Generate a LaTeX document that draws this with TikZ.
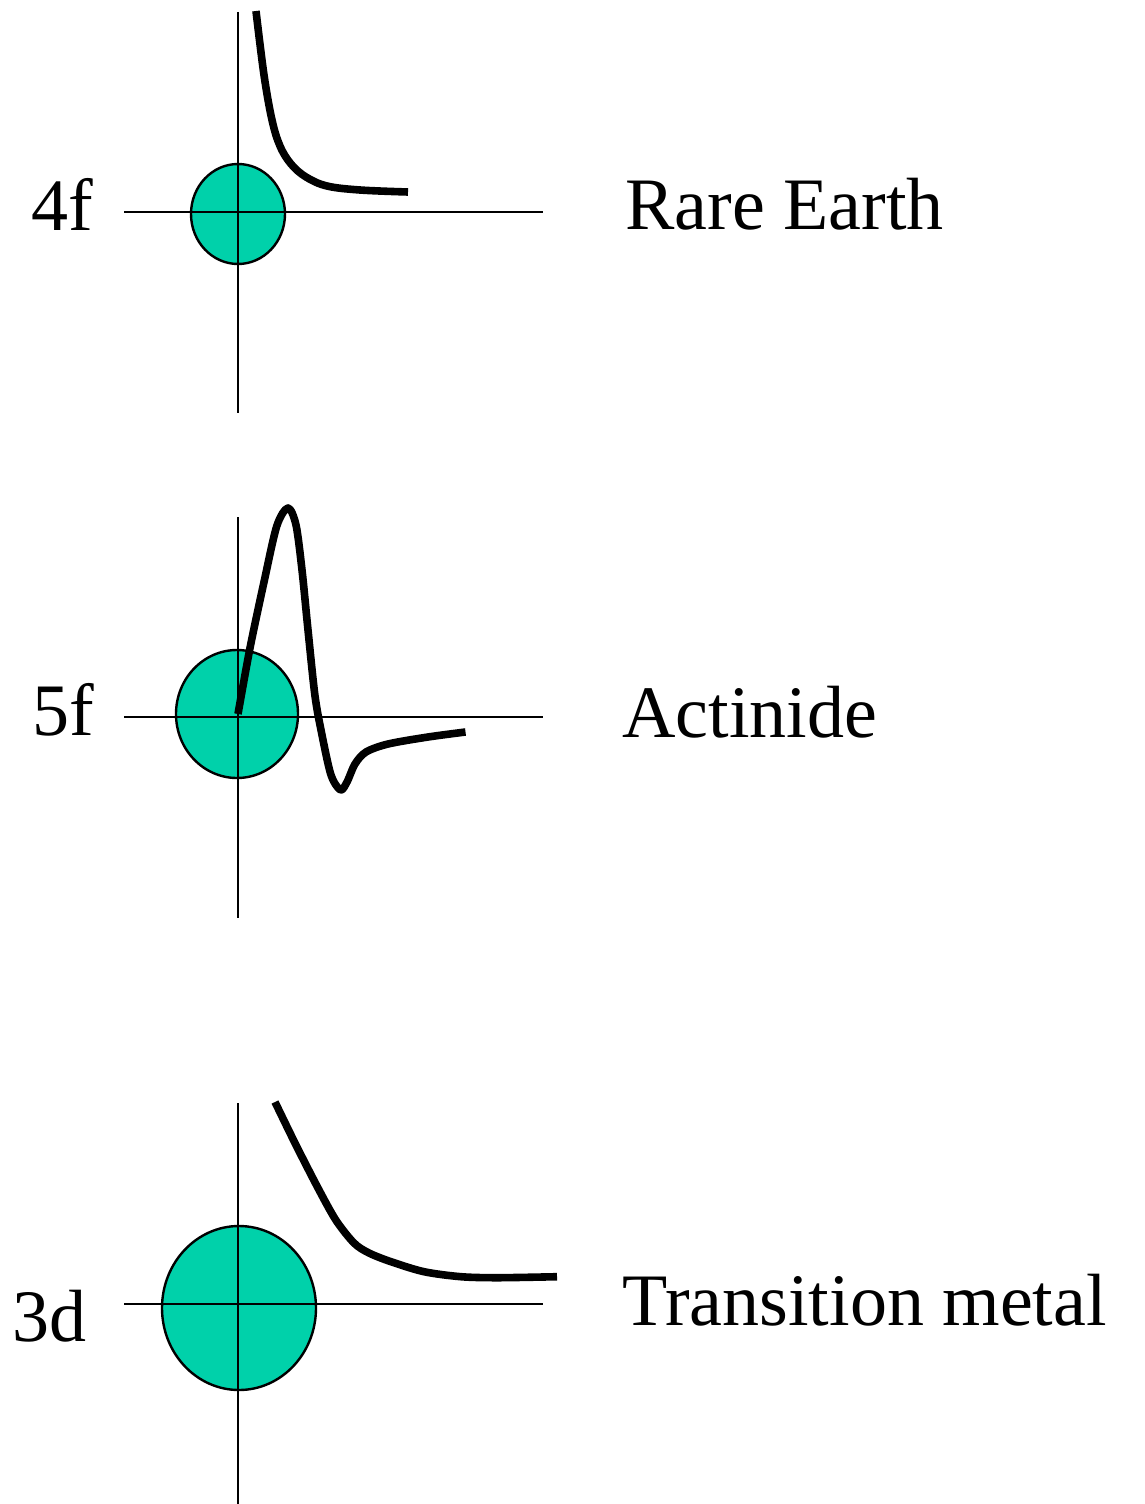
\documentclass[tikz,border=0pt]{standalone}
\usepackage{fontspec}
\setmainfont{Liberation Serif}
\usetikzlibrary{shapes.geometric}
\definecolor{orbfill}{RGB}{0,209,170}
\begin{document}
\begin{tikzpicture}[x=0.5pt,y=-0.5pt,
  orbital/.style={ellipse,draw=black,line width=1.2pt,fill=orbfill,inner sep=0pt},
  axisline/.style={line width=1pt,black},
  wave/.style={line width=3.8pt,black,line join=round},
  lbl/.style={anchor=base west,inner sep=0pt,font=\fontsize{37}{40}\selectfont}]
\useasboundingbox (0,0) rectangle (1145,1504);

% ---------- panel 1 : 4f ----------
\node[orbital,minimum width=47pt,minimum height=50pt] (c1) at (238,214) {};
\coordinate (v1t) at (238,12);  \coordinate (v1b) at (238,413);
\coordinate (h1l) at (124,212); \coordinate (h1r) at (543,212);
\draw[axisline] (v1t) -- (v1b);
\draw[axisline] (h1l) -- (h1r);
\draw[wave] plot[smooth,tension=0.6] coordinates {(256,11) (264,75) (272,120) (280,146) (291,164) (306,177) (327,186) (360,190) (408,192)};
\node[lbl] (l1) at (31,230) {4f};
\node[lbl] (n1) at (625,229) {Rare Earth};

% ---------- panel 2 : 5f ----------
\node[orbital,minimum width=61pt,minimum height=64pt] (c2) at (237,714) {};
\coordinate (v2t) at (238,517);  \coordinate (v2b) at (238,918);
\coordinate (h2l) at (124,717); \coordinate (h2r) at (543,717);
\draw[axisline] (v2t) -- (v2b);
\draw[axisline] (h2l) -- (h2r);
\draw[wave] plot[smooth,tension=0.5] coordinates {(238,714) (250,648) (264,582) (276.8,526) (288,508) (296,525) (302,570) (308,630) (315,696) (322,735) (331,775) (340.5,790) (347,782) (355,764) (366,752) (388,744) (428,737) (465.5,732)};
\node[lbl] (l2) at (32,735) {5f};
\node[lbl] (n2) at (622,737) {Actinide};

% ---------- panel 3 : 3d ----------
\node[orbital,minimum width=77pt,minimum height=82pt] (c3) at (239,1308) {};
\coordinate (v3t) at (238,1103);  \coordinate (v3b) at (238,1504);
\coordinate (h3l) at (124,1304); \coordinate (h3r) at (543,1304);
\draw[axisline] (v3t) -- (v3b);
\draw[axisline] (h3l) -- (h3r);
\draw[wave] plot[smooth,tension=0.5] coordinates {(275,1102) (295.3,1143.7) (317.3,1186.7) (335.8,1220) (354,1243) (369,1253) (391,1261.7) (424,1271.7) (461,1276.7) (498,1277.7) (557,1276.7)};
\node[lbl] (l3) at (12,1341) {3d};
\node[lbl] (n3) at (622,1325) {Transition metal};
\end{tikzpicture}
\end{document}
